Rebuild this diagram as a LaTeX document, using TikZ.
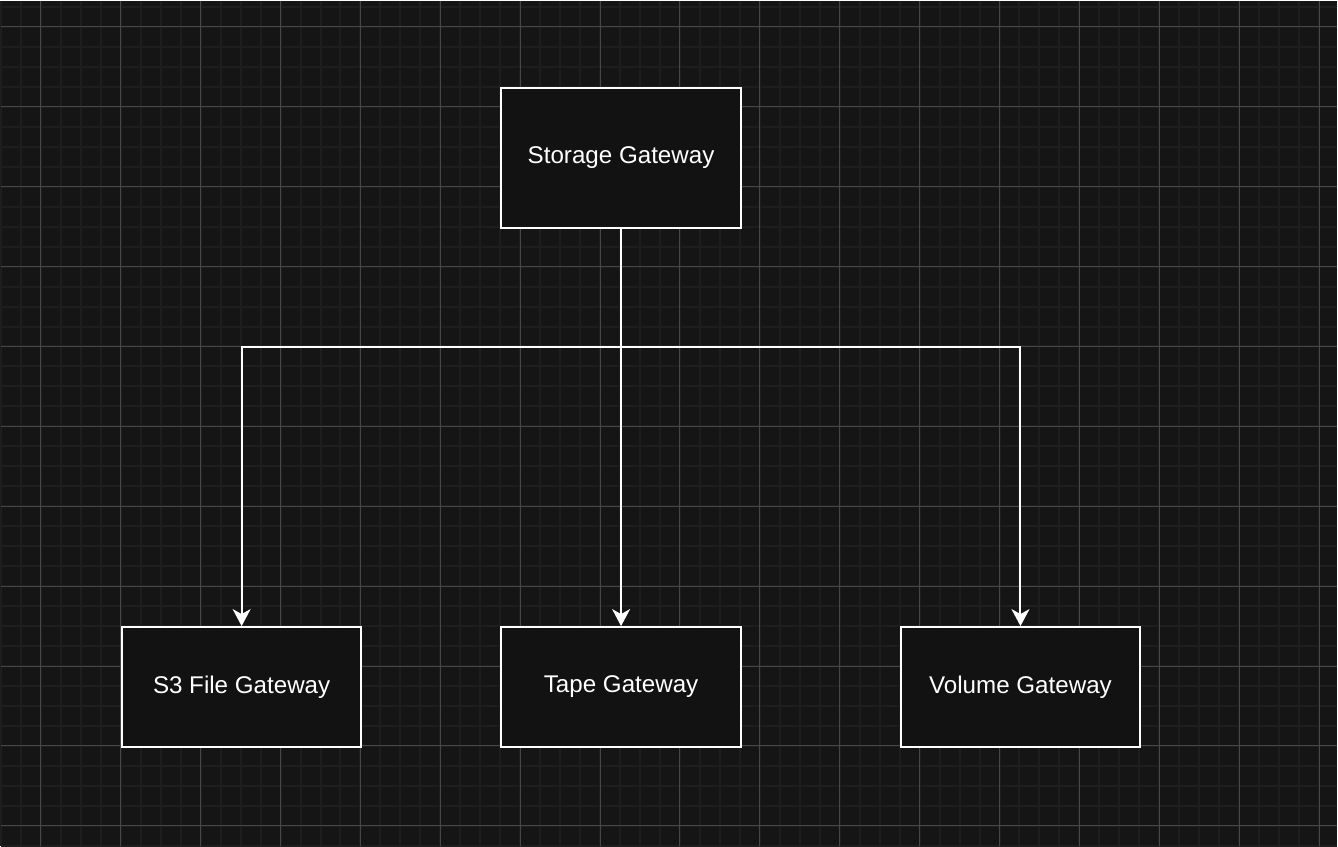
\documentclass[tikz,border=0pt]{standalone}
\usepackage{fontspec}
\setmainfont{Liberation Sans}
\usetikzlibrary{arrows.meta}
\definecolor{bgc}{HTML}{151515}
\definecolor{minorc}{HTML}{1E1E1E}
\definecolor{majorc}{HTML}{474747}
\definecolor{boxc}{HTML}{121212}
\tikzset{
  gbox/.style={draw=white, line width=2pt, fill=boxc, text=white,
    minimum width=240pt, font=\fontsize{24.2}{27}\selectfont},
  conn/.style={draw=white, line width=2pt,
    -{Stealth[length=17pt,width=18pt,inset=5pt]}},
}
\begin{document}
\begin{tikzpicture}[x=1pt,y=-1pt]
\fill[bgc] (0,0) rectangle (1338,846);
\foreach \x in {0,20,...,1338} \draw[minorc, line width=2pt] (\x,0) -- (\x,846);
\foreach \y in {6,26,...,846} \draw[minorc, line width=2pt] (0,\y) -- (1338,\y);
\foreach \x in {40,120,...,1338} \draw[majorc, line width=1pt] (\x,0) -- (\x,846);
\foreach \y in {26,106,...,846} \draw[majorc, line width=1pt] (0,\y) -- (1338,\y);
\useasboundingbox (0,0) rectangle (1338,846);

\node[gbox, minimum height=140pt] (sg) at (621,157) {\raisebox{-1.5pt}{Storage Gateway}};
\node[gbox, minimum height=120pt] (s3) at (241,687) {\raisebox{-1.5pt}{S3 File Gateway}};
\node[gbox, minimum height=120pt] (tg) at (621,687) {\raisebox{-1.5pt}{Tape Gateway}};
\node[gbox, minimum height=120pt] (vg) at (1021,687) {\raisebox{-1.5pt}{Volume Gateway}};

\coordinate (j) at (621,347);
\draw[conn] (sg.south) -- (j) -| (s3.north);
\draw[conn] (sg.south) -- (tg.north);
\draw[conn] (sg.south) -- (j) -| (vg.north);
\end{tikzpicture}
\end{document}
